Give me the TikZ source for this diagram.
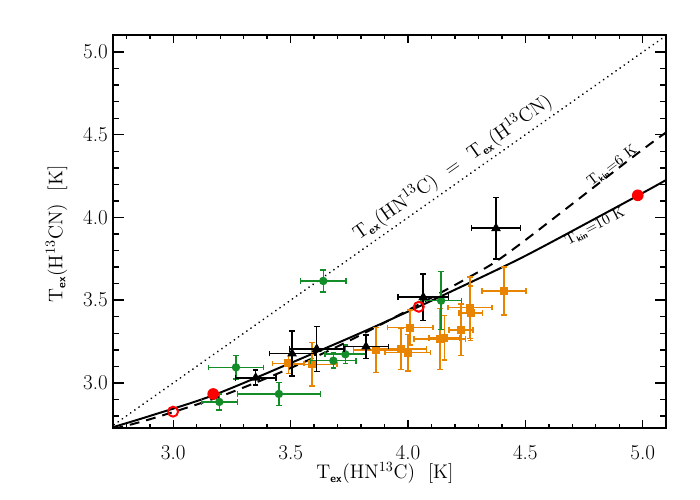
\documentclass[tikz,border=0pt]{standalone}
\usetikzlibrary{arrows.meta,shapes.geometric}
\definecolor{ptgreen}{RGB}{20,140,40}
\definecolor{ptorange}{RGB}{232,132,0}
\newcommand{\bsub}[2]{$_{\mbox{\fontsize{#1}{#1}\selectfont\sffamily\bfseries #2}}$}
\begin{document}
\begin{tikzpicture}[x=5.8675cm, y=4.135cm, font=\fontsize{14}{16}\selectfont]
        \tikzstyle{every node}=[inner sep=0pt]
        \tikzstyle{frame}=[line width=1.4pt]
        \tikzstyle{curve}=[line width=1.4pt]
        \tikzstyle{ebar}=[line width=1.1pt, {Bar[width=4pt]}-{Bar[width=4pt]}]
        \tikzstyle{gdot}=[circle, fill=ptgreen, minimum size=6pt]
        \tikzstyle{osq}=[rectangle, fill=ptorange, minimum size=5.8pt]
        \tikzstyle{btri}=[regular polygon, regular polygon sides=3, fill=black, minimum size=8pt]
        \tikzstyle{rdot}=[circle, fill=red, minimum size=8.3pt]
        \tikzstyle{rring}=[circle, draw=red, line width=1.4pt, minimum size=7.1pt]
        \tikzstyle{kinlab}=[font=\fontsize{10.5}{12}\selectfont]
        \tikzstyle{ticklab}=[font=\fontsize{15}{17}\selectfont]
        \useasboundingbox (2.2616,2.292) rectangle (5.2442,5.315);
        % model curves
        \begin{scope}
            \clip (2.745,2.73) rectangle (5.098,5.105);
            \draw[curve, dash pattern=on 0.01pt off 3.6pt, line cap=round] (2.73,2.73) -- (5.11,5.11);
            \draw[curve] plot[smooth] coordinates {(2.745,2.733) (2.90,2.80) (3.17,2.925) (3.50,3.12) (3.795,3.30) (4.044,3.46) (4.378,3.683) (4.562,3.814) (4.979,4.132) (5.11,4.235)};
            \draw[curve, dash pattern=on 7pt off 5pt] plot[smooth] coordinates {(2.745,2.722) (2.90,2.78) (3.20,2.918) (3.50,3.09) (3.795,3.287) (4.264,3.642) (4.45,3.81) (4.96,4.368) (5.11,4.525)};
        \end{scope}
        % data
        \foreach \x/\y/\dx/\dy in {3.49/3.118/0.07/0.065, 3.590/3.112/0.11/0.136, 3.864/3.199/0.10/0.14, 3.970/3.205/0.113/0.13, 3.999/3.183/0.10/0.115, 4.009/3.334/0.10/0.11, 4.136/3.265/0.113/0.19, 4.155/3.273/0.07/0.14, 4.226/3.320/0.055/0.16, 4.264/3.455/0.098/0.19, 4.267/3.421/0.053/0.17, 4.409/3.556/0.098/0.15} {
            \draw[ebar, ptorange] (\x-\dx,\y) -- (\x+\dx,\y);
            \draw[ebar, ptorange] (\x,\y-\dy) -- (\x,\y+\dy);
            \node[osq] at (\x,\y) {};
        }
        \foreach \x/\y/\dx/\dy in {3.639/3.616/0.10/0.07, 3.267/3.094/0.12/0.075, 3.196/2.885/0.08/0.053, 3.450/2.933/0.18/0.075, 3.682/3.134/0.10/0.05, 3.733/3.173/0.09/0.06, 4.141/3.497/0.09/0.18} {
            \draw[ebar, ptgreen] (\x-\dx,\y) -- (\x+\dx,\y);
            \draw[ebar, ptgreen] (\x,\y-\dy) -- (\x,\y+\dy);
            \node[gdot] at (\x,\y) {};
        }
        \foreach \x/\y/\dx/\dy in {3.351/3.031/0.09/0.05, 3.506/3.177/0.10/0.14, 3.611/3.205/0.12/0.14, 3.821/3.219/0.10/0.075, 4.065/3.518/0.11/0.145, 4.375/3.935/0.108/0.19} {
            \draw[ebar] (\x-\dx,\y) -- (\x+\dx,\y);
            \draw[ebar] (\x,\y-\dy) -- (\x,\y+\dy);
            \node[btri] at (\x,\y) {};
        }
        \node[rdot] (r1) at (3.17,2.933) {};
        \node[rdot] (r2) at (4.979,4.134) {};
        \node[rring] (r3) at (2.999,2.826) {};
        \node[rring] (r4) at (4.046,3.46) {};
        % axes
        \draw[frame] (2.745,2.73) rectangle (5.098,5.105);
        \foreach \i in {28,...,50} {
            \draw[frame, line width=1pt] (\i/10,2.73) -- ++(0,0.0242) (\i/10,5.105) -- ++(0,-0.0242);
            \draw[frame, line width=1pt] (2.745,\i/10) -- ++(0.0234,0) (5.098,\i/10) -- ++(-0.0234,0);
        }
        \foreach \t [count=\k] in {3.0,3.5,4.0,4.5,5.0} {
            \draw[frame, line width=1pt] (\t,2.73) -- ++(0,0.0484) (\t,5.105) -- ++(0,-0.0484);
            \draw[frame, line width=1pt] (2.745,\t) -- ++(0.0469,0) (5.098,\t) -- ++(-0.0469,0);
            \node[ticklab, anchor=north] (xt\k) at (\t,2.6245) {\t};
            \node[ticklab, anchor=east] (yt\k) at (2.722,\t) {\t};
        }
        \node[anchor=base] (xlab) at (3.902,2.419) {T\bsub{8}{ex}(HN$^{13}$C)\ \ [K]};
        \node[rotate=90, anchor=base] (ylab) at (2.527,3.900) {T\bsub{8}{ex}(H$^{13}$CN)\ \ [K]};
        \node[rotate=35] (eqlab) at (4.19,4.30) {T\bsub{8}{ex}(HN$^{13}$C)\ \ =\ \ T\bsub{8}{ex}(H$^{13}$CN)};
        \node[kinlab, rotate=37] (six) at (4.87,4.31) {T\bsub{6}{kin}=6 K};
        \node[kinlab, rotate=28] (ten) at (4.797,3.944) {T\bsub{6}{kin}=10 K};
    \end{tikzpicture}
\end{document}
